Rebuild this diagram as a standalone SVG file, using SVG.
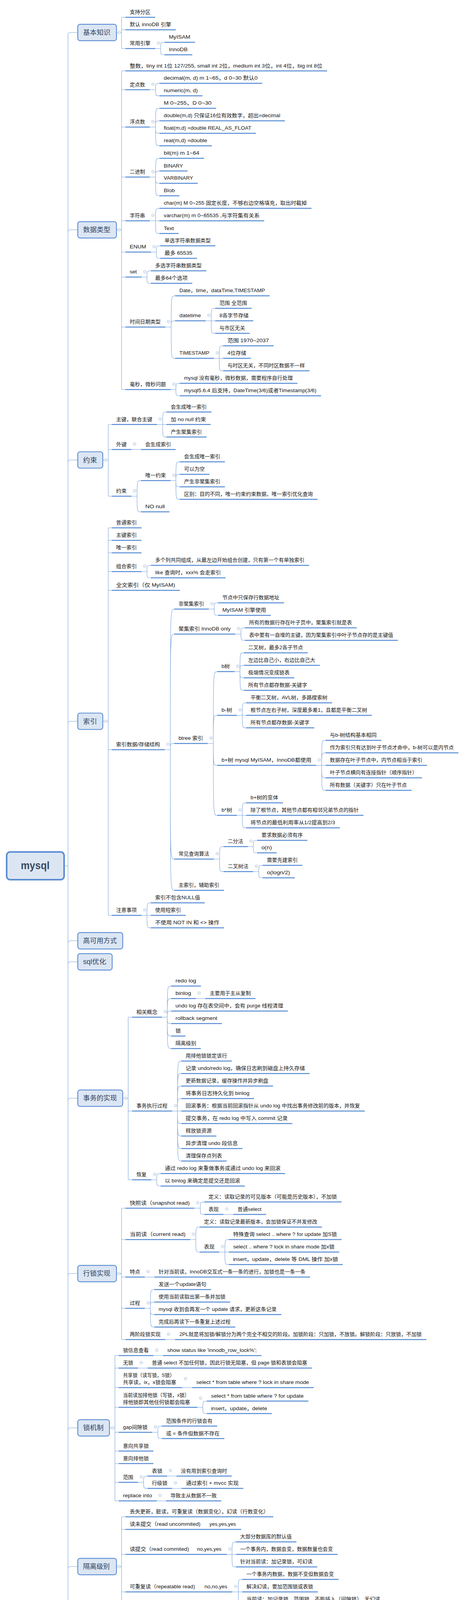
<svg xmlns="http://www.w3.org/2000/svg" width="1177" height="4571" viewBox="0 0 1177 4571">
<defs>
<style>
.u{stroke:#588dd4;stroke-width:2.6;fill:none}
.c{stroke:#79a3dc;stroke-width:1.1;fill:none}
.t{font-family:"Liberation Sans","Noto Sans CJK SC",sans-serif;font-size:13px;fill:#151515}
.bx{fill:#dce6f3;stroke:#5b8dd3;stroke-width:2.2}
.bt{font-family:"Liberation Sans","Noto Sans CJK SC",sans-serif;font-size:17.5px;fill:#2d4464}
.rt{font-family:"Liberation Sans","Noto Sans CJK SC",sans-serif;font-size:28px;font-weight:bold;fill:#3a4b63}
.ci{fill:#fff;stroke:#a8bcd8;stroke-width:1}
</style>
<g id="col"><circle class="ci" r="3.6"/><path d="M-2 0H2" stroke="#a8bcd8" stroke-width="1"/></g>
</defs>
<rect width="1177" height="4571" fill="#fff"/>
<g id="connectors">
<path class="c" d="M165 2216.5H174M174 89V4342.3M174 89Q174 83.2 180 83.2H199M174 594.3Q174 588.3 180 588.3H199M174 1183.5Q174 1177.5 180 1177.5H199M174 1852.5Q174 1846.5 180 1846.5H199M174 2414.3Q174 2408.3 180 2408.3H199M174 2468.3Q174 2462.3 180 2462.3H199M174 2817.3Q174 2811.3 180 2811.3H199M174 3266.3Q174 3260.3 180 3260.3H199M174 3661.3Q174 3655.3 180 3655.3H199M174 4016.3Q174 4010.3 180 4010.3H199M174 4342.3Q174 4348.3 180 4348.3H199"/>
<path class="c" d="M298 83.2H311M311 44.3V124.3M311 44.3H321M311 76.3H321M311 124.3H321"/>
<path class="c" d="M298 588.3H311M311 181.5V997.3M311 181.5H321M311 229.7H321M311 325.3H321M311 453.3H321M311 565.3H321M311 645.3H321M311 709.3H321M311 837.3H321M311 997.3H321"/>
<path class="c" d="M263 1177.5H277M277 1086.7V1270.3M277 1086.7H286M277 1150.7H286M277 1270.3H286"/>
<path class="c" d="M263 1846.5H277M277 1351.3V2343.3M277 1351.3H286M277 1383.3H286M277 1415.3H286M277 1463.3H286M277 1511.3H286M277 1919.3H286M277 2343.3H286"/>
<path class="c" d="M314 2811.3H328M328 2604V3020.3M328 2604H338M328 2844.3H338M328 3020.3H338"/>
<path class="c" d="M298 3260.3H311M311 3093V3429.3M311 3093H321M311 3173.3H321M311 3269.3H321M311 3349.3H321M311 3429.3H321"/>
<path class="c" d="M280 3655.3H294M294 3470.3V3842.3M294 3470.3H303.7M294 3502.3H303.7M294 3552.3H303.7M294 3602.7H303.7M294 3666.7H303.7M294 3714.7H303.7M294 3746.7H303.7M294 3794.7H303.7M294 3842.3H303.7"/>
<path class="c" d="M298 4010.3H311M311 3883V4139.3M311 3883H321M311 3915.3H321M311 3979.3H321M311 4075.3H321M311 4139.3H321"/>
<path class="c" d="M423 4348.3H436.6M436.6 4248.7V4450.3M436.6 4248.7H445.7M436.6 4450.3H445.7"/>
<path class="c" d="M397 124.3H411M411 124.3C411 108.3 411 108.3 421 108.3M411 124.3C411 140.3 411 140.3 421 140.3"/>
<path class="c" d="M383 229.7H398M398 229.7C398 213.3 398 213.3 408 213.3M398 229.7C398 245.3 398 245.3 408 245.3"/>
<path class="c" d="M383 325.3H398M398 325.3C398 277.3 398 277.3 408 277.3M398 325.3C398 309.3 398 309.3 408 309.3M398 325.3C398 341.3 398 341.3 408 341.3M398 325.3C398 373.3 398 373.3 408 373.3"/>
<path class="c" d="M383 453.3H398M398 453.3C398 405.3 398 405.3 408 405.3M398 453.3C398 437.7 398 437.7 408 437.7M398 453.3C398 469.3 398 469.3 408 469.3M398 453.3C398 501.3 398 501.3 408 501.3"/>
<path class="c" d="M383 565.3H398M398 565.3C398 533.3 398 533.3 408 533.3M398 565.3H408M398 565.3C398 597.7 398 597.7 408 597.7"/>
<path class="c" d="M386 645.3H400M400 645.3C400 629.3 400 629.3 410 629.3M400 645.3C400 661.3 400 661.3 410 661.3"/>
<path class="c" d="M362 709.3H376M376 709.3C376 693.3 376 693.3 386 693.3M376 709.3C376 725.3 376 725.3 386 725.3"/>
<path class="c" d="M423 837.3H438M438 837.3C438 757.3 438 757.3 448 757.3M438 837.3C438 821.3 438 821.3 448 821.3M438 837.3C438 917.3 438 917.3 448 917.3"/>
<path class="c" d="M526 821.3H540.5M540.5 821.3C540.5 789.3 540.5 789.3 550.5 789.3M540.5 821.3H550.5M540.5 821.3C540.5 853.3 540.5 853.3 550.5 853.3"/>
<path class="c" d="M547.5 917.3H561M561 917.3C561 885.3 561 885.3 571 885.3M561 917.3H571M561 917.3C561 949.3 561 949.3 571 949.3"/>
<path class="c" d="M436.6 997.3H450M450 997.3C450 981.3 450 981.3 460 981.3M450 997.3C450 1013.3 450 1013.3 460 1013.3"/>
<path class="c" d="M401.7 1086.7H416M416 1086.7C416 1054.7 416 1054.7 426 1054.7M416 1086.7H426M416 1086.7C416 1118.7 416 1118.7 426 1118.7"/>
<path class="c" d="M336 1150.7H360.7"/>
<path class="c" d="M336 1270.3H350.7M350.7 1270.3C350.7 1230.3 350.7 1230.3 360.7 1230.3M350.7 1270.3C350.7 1310.3 350.7 1310.3 360.7 1310.3"/>
<path class="c" d="M436.6 1230.3H450M450 1230.3C450 1182.3 450 1182.3 460 1182.3M450 1230.3C450 1214.3 450 1214.3 460 1214.3M450 1230.3C450 1246.3 450 1246.3 460 1246.3M450 1230.3C450 1278.3 450 1278.3 460 1278.3"/>
<path class="c" d="M362 1463.3H376M376 1463.3C376 1447.3 376 1447.3 386 1447.3M376 1463.3C376 1479.3 376 1479.3 386 1479.3"/>
<path class="c" d="M421.4 1919.3H435.7M435.7 1919.3C435.7 1559.3 435.7 1559.3 445.7 1559.3M435.7 1919.3C435.7 1623.3 435.7 1623.3 445.7 1623.3M435.7 1919.3C435.7 1903.3 435.7 1903.3 445.7 1903.3M435.7 1919.3C435.7 2199.3 435.7 2199.3 445.7 2199.3M435.7 1919.3C435.7 2279.3 435.7 2279.3 445.7 2279.3"/>
<path class="c" d="M534 1559.3H548M548 1559.3C548 1543.3 548 1543.3 558 1543.3M548 1559.3C548 1575.3 548 1575.3 558 1575.3"/>
<path class="c" d="M602 1623.3H616.4M616.4 1623.3C616.4 1607.3 616.4 1607.3 626.4 1607.3M616.4 1623.3C616.4 1639.3 616.4 1639.3 626.4 1639.3"/>
<path class="c" d="M531.5 1903.3H545.8M545.8 1903.3C545.8 1719.3 545.8 1719.3 555.8 1719.3M545.8 1903.3C545.8 1831.3 545.8 1831.3 555.8 1831.3M545.8 1903.3C545.8 1959.3 545.8 1959.3 555.8 1959.3M545.8 1903.3C545.8 2087.3 545.8 2087.3 555.8 2087.3"/>
<path class="c" d="M600 1719.3H614M614 1719.3C614 1671.3 614 1671.3 624 1671.3M614 1719.3C614 1703.3 614 1703.3 624 1703.3M614 1719.3C614 1735.3 614 1735.3 624 1735.3M614 1719.3C614 1767.3 614 1767.3 624 1767.3"/>
<path class="c" d="M606 1831.3H620M620 1831.3C620 1799.3 620 1799.3 630 1799.3M620 1831.3H630M620 1831.3C620 1863.3 620 1863.3 630 1863.3"/>
<path class="c" d="M808.7 1959.3H823M823 1959.3C823 1895.3 823 1895.3 833 1895.3M823 1959.3C823 1927.3 823 1927.3 833 1927.3M823 1959.3H833M823 1959.3C823 1991.3 823 1991.3 833 1991.3M823 1959.3C823 2023.3 823 2023.3 833 2023.3"/>
<path class="c" d="M606 2087.3H620M620 2087.3C620 2055.3 620 2055.3 630 2055.3M620 2087.3H630M620 2087.3C620 2119.3 620 2119.3 630 2119.3"/>
<path class="c" d="M547.5 2199.3H561.8M561.8 2199.3C561.8 2167.3 561.8 2167.3 571.8 2167.3M561.8 2199.3C561.8 2231.3 561.8 2231.3 571.8 2231.3"/>
<path class="c" d="M634 2167.3H648M648 2167.3C648 2151.3 648 2151.3 658 2151.3M648 2167.3C648 2183.3 648 2183.3 658 2183.3"/>
<path class="c" d="M647.7 2231.3H662M662 2231.3C662 2215.3 662 2215.3 672 2215.3M662 2231.3C662 2247.3 662 2247.3 672 2247.3"/>
<path class="c" d="M362 2343.3H376M376 2343.3C376 2311.3 376 2311.3 386 2311.3M376 2343.3H386M376 2343.3C376 2375.3 376 2375.3 386 2375.3"/>
<path class="c" d="M414.6 2604H428M428 2604C428 2524.3 428 2524.3 438 2524.3M428 2604C428 2556.3 428 2556.3 438 2556.3M428 2604C428 2588.3 428 2588.3 438 2588.3M428 2604C428 2620.3 428 2620.3 438 2620.3M428 2604C428 2652.3 428 2652.3 438 2652.3M428 2604C428 2684.3 428 2684.3 438 2684.3"/>
<path class="c" d="M501 2556.3H525.4"/>
<path class="c" d="M440.4 2844.3H454M454 2844.3C454 2716.3 454 2716.3 464 2716.3M454 2844.3C454 2748.3 454 2748.3 464 2748.3M454 2844.3C454 2780.3 454 2780.3 464 2780.3M454 2844.3C454 2812.3 454 2812.3 464 2812.3M454 2844.3H464M454 2844.3C454 2876.3 454 2876.3 464 2876.3M454 2844.3C454 2908.3 454 2908.3 464 2908.3M454 2844.3C454 2940.3 454 2940.3 464 2940.3M454 2844.3C454 2972.3 454 2972.3 464 2972.3"/>
<path class="c" d="M387.2 3020.3H400.8M400.8 3020.3C400.8 3004.3 400.8 3004.3 410.8 3004.3M400.8 3020.3C400.8 3036.3 400.8 3036.3 410.8 3036.3"/>
<path class="c" d="M497.3 3093H512.4M512.4 3093C512.4 3077 512.4 3077 522.4 3077M512.4 3093C512.4 3109 512.4 3109 522.4 3109"/>
<path class="c" d="M571.8 3109H596.8"/>
<path class="c" d="M486.7 3173.3H501M501 3173.3C501 3141.3 501 3141.3 511 3141.3M501 3173.3C501 3205.3 501 3205.3 511 3205.3"/>
<path class="c" d="M561 3205.3H575.4M575.4 3205.3C575.4 3173.3 575.4 3173.3 585.4 3173.3M575.4 3205.3H585.4M575.4 3205.3C575.4 3237.3 575.4 3237.3 585.4 3237.3"/>
<path class="c" d="M370.5 3269.3H394.8"/>
<path class="c" d="M370.5 3349.3H384.8M384.8 3349.3C384.8 3301.3 384.8 3301.3 394.8 3301.3M384.8 3349.3C384.8 3333.3 384.8 3333.3 394.8 3333.3M384.8 3349.3C384.8 3365.3 384.8 3365.3 394.8 3365.3M384.8 3349.3C384.8 3397.3 384.8 3397.3 394.8 3397.3"/>
<path class="c" d="M423 3429.3H448"/>
<path class="c" d="M392.6 3470.3H416.9M353 3502.3H377.4M466.2 3552.3H491.3"/>
<path class="c" d="M505 3602.7H519M519 3602.7C519 3586.7 519 3586.7 529 3586.7M519 3602.7C519 3618.7 519 3618.7 529 3618.7"/>
<path class="c" d="M389.5 3666.7H403.8M403.8 3666.7C403.8 3650.7 403.8 3650.7 413.8 3650.7M403.8 3666.7C403.8 3682.7 403.8 3682.7 413.8 3682.7"/>
<path class="c" d="M353 3794.7H367.4M367.4 3794.7C367.4 3778.7 367.4 3778.7 377.4 3778.7M367.4 3794.7C367.4 3810.3 367.4 3810.3 377.4 3810.3"/>
<path class="c" d="M427.5 3778.7H451.8M440.4 3810.3H464.7M401 3842.3H425.2"/>
<path class="c" d="M580 3979.3H593.6M593.6 3979.3C593.6 3947.3 593.6 3947.3 603.6 3947.3M593.6 3979.3H603.6M593.6 3979.3C593.6 4011.3 593.6 4011.3 603.6 4011.3"/>
<path class="c" d="M594.5 4075.3H609.6M609.6 4075.3C609.6 4043.3 609.6 4043.3 619.6 4043.3M609.6 4075.3H619.6M609.6 4075.3C609.6 4107.3 609.6 4107.3 619.6 4107.3"/>
<path class="c" d="M553.5 4139.3H578.6"/>
<path class="c" d="M522.4 4248.7H536.7M536.7 4248.7C536.7 4198.3 536.7 4198.3 546.7 4198.3M536.7 4248.7H546.7M536.7 4248.7C536.7 4298.3 536.7 4298.3 546.7 4298.3"/>
<path class="c" d="M495 4450.3H510M510 4450.3C510 4346.3 510 4346.3 520 4346.3M510 4450.3C510 4394.3 510 4394.3 520 4394.3M510 4450.3C510 4426.3 510 4426.3 520 4426.3M510 4450.3C510 4474.3 510 4474.3 520 4474.3M510 4450.3C510 4522.3 510 4522.3 520 4522.3M510 4450.3C510 4554.3 510 4554.3 520 4554.3"/>
<path class="c" d="M578.6 4346.3H593M593 4346.3C593 4330.7 593 4330.7 603 4330.7M593 4346.3C593 4362.7 593 4362.7 603 4362.7"/>
<path class="c" d="M580 4394.3H603M588.5 4426.3H612.8"/>
<path class="c" d="M581.6 4474.3H596.7M596.7 4474.3C596.7 4458.3 596.7 4458.3 606.7 4458.3M596.7 4474.3C596.7 4490.3 596.7 4490.3 606.7 4490.3"/>
<path class="c" d="M590.7 4522.3H615M593.8 4554.3H617.3"/>
</g>

<g id="root">
<rect x="17" y="2181" width="147" height="71" rx="9" fill="#dce6f3" stroke="#5b8dd3" stroke-width="4"/>
<text class="rt" x="53.2" y="2225" textLength="73.6" lengthAdjust="spacingAndGlyphs">mysql</text>
</g>

<g id="n-basic">
<rect class="bx" x="199" y="62.2" width="99" height="42" rx="6"/>
<text class="bt" x="212.6" y="89.2" textLength="70" lengthAdjust="spacingAndGlyphs">基本知识</text>
<use href="#col" x="305" y="83.2"/>
</g>
<g id="k1"><path class="u" d="M321 44.3H397"/><text class="t" x="332" y="35.3" textLength="53" lengthAdjust="spacingAndGlyphs">支持分区</text></g>
<g id="k2"><path class="u" d="M321 76.3H450"/><text class="t" x="332" y="67.3" textLength="106" lengthAdjust="spacingAndGlyphs">默认 innoDB 引擎</text></g>
<g id="k3"><path class="u" d="M321 124.3H397"/><text class="t" x="332" y="115.3" textLength="53" lengthAdjust="spacingAndGlyphs">常用引擎</text><use href="#col" x="405.5" y="110.3"/></g>
<g id="k3a"><path class="u" d="M421 108.3H499"/><text class="t" x="432" y="99.3" textLength="55" lengthAdjust="spacingAndGlyphs">MyISAM</text></g>
<g id="k3b"><path class="u" d="M421 140.3H492"/><text class="t" x="432" y="131.3" textLength="48" lengthAdjust="spacingAndGlyphs">InnoDB</text></g>

<g id="n-types">
<rect class="bx" x="199" y="567.3" width="99" height="42" rx="6"/>
<text class="bt" x="212.6" y="594.3" textLength="70" lengthAdjust="spacingAndGlyphs">数据类型</text>
<use href="#col" x="305" y="588.3"/>
</g>
<g id="d1"><path class="u" d="M321 181.5H837"/><text class="t" x="332" y="172.5" textLength="493" lengthAdjust="spacingAndGlyphs">整数，tiny int 1位 127/255, small int 2位，medium int 3位，int 4位，big int 8位</text></g>
<g id="d2"><path class="u" d="M321 229.7H383"/><text class="t" x="332" y="220.7" textLength="39" lengthAdjust="spacingAndGlyphs">定点数</text><use href="#col" x="391.5" y="215.7"/></g>
<g id="d2a"><path class="u" d="M408 213.3H671"/><text class="t" x="419" y="204.3" textLength="240" lengthAdjust="spacingAndGlyphs">decimal(m, d) m 1~65，d 0~30 默认0</text></g>
<g id="d2b"><path class="u" d="M408 245.3H518"/><text class="t" x="419" y="236.3" textLength="87" lengthAdjust="spacingAndGlyphs">numeric(m, d)</text></g>
<g id="d3"><path class="u" d="M321 325.3H383"/><text class="t" x="332" y="316.3" textLength="39" lengthAdjust="spacingAndGlyphs">浮点数</text><use href="#col" x="391.5" y="311.3"/></g>
<g id="d3a"><path class="u" d="M408 277.3H553"/><text class="t" x="419" y="268.3" textLength="122" lengthAdjust="spacingAndGlyphs">M 0~255，D 0~30</text></g>
<g id="d3b"><path class="u" d="M408 309.3H729"/><text class="t" x="419" y="300.3" textLength="298" lengthAdjust="spacingAndGlyphs">double(m,d) 只保证16位有效数字，超出=decimal</text></g>
<g id="d3c"><path class="u" d="M408 341.3H655"/><text class="t" x="419" y="332.3" textLength="224" lengthAdjust="spacingAndGlyphs">float(m,d) =double REAL_AS_FLOAT</text></g>
<g id="d3d"><path class="u" d="M408 373.3H542"/><text class="t" x="419" y="364.3" textLength="111" lengthAdjust="spacingAndGlyphs">real(m,d) =double</text></g>
<g id="d4"><path class="u" d="M321 453.3H383"/><text class="t" x="332" y="444.3" textLength="39" lengthAdjust="spacingAndGlyphs">二进制</text><use href="#col" x="391.5" y="439.3"/></g>
<g id="d4a"><path class="u" d="M408 405.3H522"/><text class="t" x="419" y="396.3" textLength="91" lengthAdjust="spacingAndGlyphs">bit(m) m 1~64</text></g>
<g id="d4b"><path class="u" d="M408 437.7H480"/><text class="t" x="419" y="428.7" textLength="49" lengthAdjust="spacingAndGlyphs">BINARY</text></g>
<g id="d4c"><path class="u" d="M408 469.3H506"/><text class="t" x="419" y="460.3" textLength="75" lengthAdjust="spacingAndGlyphs">VARBINARY</text></g>
<g id="d4d"><path class="u" d="M408 501.3H459"/><text class="t" x="419" y="492.3" textLength="28" lengthAdjust="spacingAndGlyphs">Blob</text></g>
<g id="d5"><path class="u" d="M321 565.3H383"/><text class="t" x="332" y="556.3" textLength="39" lengthAdjust="spacingAndGlyphs">字符串</text><use href="#col" x="391.5" y="551.3"/></g>
<g id="d5a"><path class="u" d="M408 533.3H797"/><text class="t" x="419" y="524.3" textLength="366" lengthAdjust="spacingAndGlyphs">char(m) M 0~255 固定长度，不够右边空格填充，取出时截掉</text></g>
<g id="d5b"><path class="u" d="M408 565.3H676"/><text class="t" x="419" y="556.3" textLength="245" lengthAdjust="spacingAndGlyphs">varchar(m) m 0~65535 ,与字符集有关系</text></g>
<g id="d5c"><path class="u" d="M408 597.7H457"/><text class="t" x="419" y="588.7" textLength="26" lengthAdjust="spacingAndGlyphs">Text</text></g>
<g id="d6"><path class="u" d="M321 645.3H386"/><text class="t" x="332" y="636.3" textLength="42" lengthAdjust="spacingAndGlyphs">ENUM</text><use href="#col" x="394.5" y="631.3"/></g>
<g id="d6a"><path class="u" d="M410 629.3H551"/><text class="t" x="421" y="620.3" textLength="118" lengthAdjust="spacingAndGlyphs">单选字符串数据类型</text></g>
<g id="d6b"><path class="u" d="M410 661.3H504"/><text class="t" x="421" y="652.3" textLength="71" lengthAdjust="spacingAndGlyphs">最多 65535</text></g>
<g id="d7"><path class="u" d="M321 709.3H362"/><text class="t" x="332" y="700.3" textLength="18" lengthAdjust="spacingAndGlyphs">set</text><use href="#col" x="370.5" y="695.3"/></g>
<g id="d7a"><path class="u" d="M386 693.3H528"/><text class="t" x="397" y="684.3" textLength="119" lengthAdjust="spacingAndGlyphs">多选字符串数据类型</text></g>
<g id="d7b"><path class="u" d="M386 725.3H492"/><text class="t" x="397" y="716.3" textLength="83" lengthAdjust="spacingAndGlyphs">最多64个选项</text></g>
<g id="d8"><path class="u" d="M321 837.3H423"/><text class="t" x="332" y="828.3" textLength="79" lengthAdjust="spacingAndGlyphs">时间日期类型</text><use href="#col" x="431.5" y="823.3"/></g>
<g id="d8a"><path class="u" d="M448 757.3H690"/><text class="t" x="459" y="748.3" textLength="219" lengthAdjust="spacingAndGlyphs">Date，time，dataTime,TIMESTAMP</text></g>
<g id="d8b"><path class="u" d="M448 821.3H526"/><text class="t" x="459" y="812.3" textLength="55" lengthAdjust="spacingAndGlyphs">datetime</text><use href="#col" x="534.5" y="807.3"/></g>
<g id="d8b1"><path class="u" d="M550.5 789.3H644"/><text class="t" x="561.5" y="780.3" textLength="70.5" lengthAdjust="spacingAndGlyphs">范围 全范围</text></g>
<g id="d8b2"><path class="u" d="M550.5 821.3H648"/><text class="t" x="561.5" y="812.3" textLength="74.5" lengthAdjust="spacingAndGlyphs">8各字节存储</text></g>
<g id="d8b3"><path class="u" d="M550.5 853.3H639"/><text class="t" x="561.5" y="844.3" textLength="65.5" lengthAdjust="spacingAndGlyphs">与市区无关</text></g>
<g id="d8c"><path class="u" d="M448 917.3H547.5"/><text class="t" x="459" y="908.3" textLength="76.5" lengthAdjust="spacingAndGlyphs">TIMESTAMP</text><use href="#col" x="556" y="903.3"/></g>
<g id="d8c1"><path class="u" d="M571 885.3H700"/><text class="t" x="582" y="876.3" textLength="106" lengthAdjust="spacingAndGlyphs">范围 1970~2037</text></g>
<g id="d8c2"><path class="u" d="M571 917.3H642"/><text class="t" x="582" y="908.3" textLength="48" lengthAdjust="spacingAndGlyphs">4位存储</text></g>
<g id="d8c3"><path class="u" d="M571 949.3H792"/><text class="t" x="582" y="940.3" textLength="198" lengthAdjust="spacingAndGlyphs">与时区无关，不同时区数据不一样</text></g>
<g id="d9"><path class="u" d="M321 997.3H436.6"/><text class="t" x="332" y="988.3" textLength="92.6" lengthAdjust="spacingAndGlyphs">毫秒，微秒问题</text><use href="#col" x="445" y="983.3"/></g>
<g id="d9a"><path class="u" d="M460 981.3H761"/><text class="t" x="471" y="972.3" textLength="278" lengthAdjust="spacingAndGlyphs">mysql 没有毫秒，微秒数据，需要程序自行处理</text></g>
<g id="d9b"><path class="u" d="M460 1013.3H821.6"/><text class="t" x="471" y="1004.3" textLength="338.6" lengthAdjust="spacingAndGlyphs">mysql5.6.4 后支持，DateTime(3/6)或者Timestamp(3/6)</text></g>

<g id="n-constraint">
<rect class="bx" x="199" y="1156.5" width="64" height="42" rx="6"/>
<text class="bt" x="212.6" y="1183.5" textLength="35.7" lengthAdjust="spacingAndGlyphs">约束</text>
<use href="#col" x="270" y="1177.5"/>
</g>
<g id="y1"><path class="u" d="M286 1086.7H401.7"/><text class="t" x="297" y="1077.7" textLength="92.7" lengthAdjust="spacingAndGlyphs">主键，联合主键</text><use href="#col" x="410" y="1072.7"/></g>
<g id="y1a"><path class="u" d="M426 1054.7H541"/><text class="t" x="437" y="1045.7" textLength="92" lengthAdjust="spacingAndGlyphs">会生成唯一索引</text></g>
<g id="y1b"><path class="u" d="M426 1086.7H539"/><text class="t" x="437" y="1077.7" textLength="90" lengthAdjust="spacingAndGlyphs">加 no null 约束</text></g>
<g id="y1c"><path class="u" d="M426 1118.7H528.5"/><text class="t" x="437" y="1109.7" textLength="79.5" lengthAdjust="spacingAndGlyphs">产生聚集索引</text></g>
<g id="y2"><path class="u" d="M286 1150.7H336"/><text class="t" x="297" y="1141.7" textLength="27" lengthAdjust="spacingAndGlyphs">外键</text><use href="#col" x="344.5" y="1136.7"/></g>
<g id="y2a"><path class="u" d="M360.7 1150.7H449.5"/><text class="t" x="371.7" y="1141.7" textLength="65.8" lengthAdjust="spacingAndGlyphs">会生成索引</text></g>
<g id="y3"><path class="u" d="M286 1270.3H336"/><text class="t" x="297" y="1261.3" textLength="27" lengthAdjust="spacingAndGlyphs">约束</text><use href="#col" x="344.5" y="1256.3"/></g>
<g id="y3a"><path class="u" d="M360.7 1230.3H436.6"/><text class="t" x="371.7" y="1221.3" textLength="52.9" lengthAdjust="spacingAndGlyphs">唯一约束</text><use href="#col" x="445" y="1216.3"/></g>
<g id="y3a1"><path class="u" d="M460 1182.3H575.5"/><text class="t" x="471" y="1173.3" textLength="92.5" lengthAdjust="spacingAndGlyphs">会生成唯一索引</text></g>
<g id="y3a2"><path class="u" d="M460 1214.3H536"/><text class="t" x="471" y="1205.3" textLength="53" lengthAdjust="spacingAndGlyphs">可以为空</text></g>
<g id="y3a3"><path class="u" d="M460 1246.3H575.5"/><text class="t" x="471" y="1237.3" textLength="92.5" lengthAdjust="spacingAndGlyphs">产生非聚集索引</text></g>
<g id="y3a4"><path class="u" d="M460 1278.3H812.5"/><text class="t" x="471" y="1269.3" textLength="329.5" lengthAdjust="spacingAndGlyphs">区别：目的不同，唯一约束约束数据，唯一索引优化查询</text></g>
<g id="y3b"><path class="u" d="M360.7 1310.3H433.6"/><text class="t" x="371.7" y="1301.3" textLength="49.9" lengthAdjust="spacingAndGlyphs">NO null</text></g>

<g id="n-index">
<rect class="bx" x="199" y="1825.5" width="64" height="42" rx="6"/>
<text class="bt" x="212.6" y="1852.5" textLength="35.7" lengthAdjust="spacingAndGlyphs">索引</text>
<use href="#col" x="270" y="1846.5"/>
</g>
<g id="s1"><path class="u" d="M286 1351.3H362"/><text class="t" x="297" y="1342.3" textLength="53" lengthAdjust="spacingAndGlyphs">普通索引</text></g>
<g id="s2"><path class="u" d="M286 1383.3H362"/><text class="t" x="297" y="1374.3" textLength="53" lengthAdjust="spacingAndGlyphs">主键索引</text></g>
<g id="s3"><path class="u" d="M286 1415.3H362"/><text class="t" x="297" y="1406.3" textLength="53" lengthAdjust="spacingAndGlyphs">唯一索引</text></g>
<g id="s4"><path class="u" d="M286 1463.3H362"/><text class="t" x="297" y="1454.3" textLength="53" lengthAdjust="spacingAndGlyphs">组合索引</text><use href="#col" x="370.5" y="1449.3"/></g>
<g id="s4a"><path class="u" d="M386 1447.3H791"/><text class="t" x="397" y="1438.3" textLength="382" lengthAdjust="spacingAndGlyphs">多个列共同组成，从最左边开始组合创建，只有第一个有单独索引</text></g>
<g id="s4b"><path class="u" d="M386 1479.3H577"/><text class="t" x="397" y="1470.3" textLength="168" lengthAdjust="spacingAndGlyphs">like 查询时，xxx% 会走索引</text></g>
<g id="s5"><path class="u" d="M286 1511.3H460"/><text class="t" x="297" y="1502.3" textLength="151" lengthAdjust="spacingAndGlyphs">全文索引（仅 MyISAM)</text></g>
<g id="s6"><path class="u" d="M286 1919.3H421.4"/><text class="t" x="297" y="1910.3" textLength="112.4" lengthAdjust="spacingAndGlyphs">索引数据/存储结构</text><use href="#col" x="429.9" y="1905.3"/></g>
<g id="s6a"><path class="u" d="M445.7 1559.3H534"/><text class="t" x="456.7" y="1550.3" textLength="65.3" lengthAdjust="spacingAndGlyphs">非聚集索引</text><use href="#col" x="542.5" y="1545.3"/></g>
<g id="s6a1"><path class="u" d="M558 1543.3H726.7"/><text class="t" x="569" y="1534.3" textLength="145.7" lengthAdjust="spacingAndGlyphs">节点中只保存行数据地址</text></g>
<g id="s6a2"><path class="u" d="M558 1575.3H693"/><text class="t" x="569" y="1566.3" textLength="112" lengthAdjust="spacingAndGlyphs">MyISAM 引擎使用</text></g>
<g id="s6b"><path class="u" d="M445.7 1623.3H602"/><text class="t" x="456.7" y="1614.3" textLength="133.3" lengthAdjust="spacingAndGlyphs">聚集索引 InnoDB only</text><use href="#col" x="610.5" y="1609.3"/></g>
<g id="s6b1"><path class="u" d="M626.4 1607.3H912.7"/><text class="t" x="637.4" y="1598.3" textLength="263.3" lengthAdjust="spacingAndGlyphs">所有的数据行存在叶子页中，聚集索引就是表</text></g>
<g id="s6b2"><path class="u" d="M626.4 1639.3H1018"/><text class="t" x="637.4" y="1630.3" textLength="368.6" lengthAdjust="spacingAndGlyphs">表中要有一自增的主键，因为聚集索引中叶子节点存的是主键值</text></g>
<g id="s6c"><path class="u" d="M445.7 1903.3H531.5"/><text class="t" x="456.7" y="1894.3" textLength="62.8" lengthAdjust="spacingAndGlyphs">btree 索引</text><use href="#col" x="540" y="1889.3"/></g>
<g id="s6c1"><path class="u" d="M555.8 1719.3H600"/><text class="t" x="566.8" y="1710.3" textLength="21.2" lengthAdjust="spacingAndGlyphs">b树</text><use href="#col" x="608.5" y="1705.3"/></g>
<g id="s6c1a"><path class="u" d="M624 1671.3H787.4"/><text class="t" x="635" y="1662.3" textLength="140.4" lengthAdjust="spacingAndGlyphs">二叉树，最多2各子节点</text></g>
<g id="s6c1b"><path class="u" d="M624 1703.3H818.5"/><text class="t" x="635" y="1694.3" textLength="171.5" lengthAdjust="spacingAndGlyphs">左边比自己小，右边比自己大</text></g>
<g id="s6c1c"><path class="u" d="M624 1735.3H753"/><text class="t" x="635" y="1726.3" textLength="106" lengthAdjust="spacingAndGlyphs">极端情况变成链表</text></g>
<g id="s6c1d"><path class="u" d="M624 1767.3H798"/><text class="t" x="635" y="1758.3" textLength="151" lengthAdjust="spacingAndGlyphs">所有节点都存数据-关键字</text></g>
<g id="s6c2"><path class="u" d="M555.8 1831.3H606"/><text class="t" x="566.8" y="1822.3" textLength="27.2" lengthAdjust="spacingAndGlyphs">b-树</text><use href="#col" x="614.5" y="1817.3"/></g>
<g id="s6c2a"><path class="u" d="M630 1799.3H849.7"/><text class="t" x="641" y="1790.3" textLength="196.7" lengthAdjust="spacingAndGlyphs">平衡二叉树，AVL树，多路搜索树</text></g>
<g id="s6c2b"><path class="u" d="M630 1831.3H951.4"/><text class="t" x="641" y="1822.3" textLength="298.4" lengthAdjust="spacingAndGlyphs">根节点左右子树，深度最多差1，且都是平衡二叉树</text></g>
<g id="s6c2c"><path class="u" d="M630 1863.3H804"/><text class="t" x="641" y="1854.3" textLength="151" lengthAdjust="spacingAndGlyphs">所有节点都存数据-关键字</text></g>
<g id="s6c3"><path class="u" d="M555.8 1959.3H808.7"/><text class="t" x="566.8" y="1950.3" textLength="229.9" lengthAdjust="spacingAndGlyphs">b+树 mysql MyISAM，InnoDB都使用</text><use href="#col" x="817" y="1945.3"/></g>
<g id="s6c3a"><path class="u" d="M833 1895.3H975.7"/><text class="t" x="844" y="1886.3" textLength="119.7" lengthAdjust="spacingAndGlyphs">与b-树结构基本相同</text></g>
<g id="s6c3b"><path class="u" d="M833 1927.3H1173"/><text class="t" x="844" y="1918.3" textLength="317" lengthAdjust="spacingAndGlyphs">作为索引只有达到叶子节点才命中，b-树可以是内节点</text></g>
<g id="s6c3c"><path class="u" d="M833 1959.3H1092.6"/><text class="t" x="844" y="1950.3" textLength="236.6" lengthAdjust="spacingAndGlyphs">数据存在叶子节点中，内节点相当于索引</text></g>
<g id="s6c3d"><path class="u" d="M833 1991.3H1079.7"/><text class="t" x="844" y="1982.3" textLength="223.7" lengthAdjust="spacingAndGlyphs">叶子节点横向有连接指针（顺序指针）</text></g>
<g id="s6c3e"><path class="u" d="M833 2023.3H1053"/><text class="t" x="844" y="2014.3" textLength="197" lengthAdjust="spacingAndGlyphs">所有数据（关键字）只在叶子节点</text></g>
<g id="s6c4"><path class="u" d="M555.8 2087.3H606"/><text class="t" x="566.8" y="2078.3" textLength="27.2" lengthAdjust="spacingAndGlyphs">b*树</text><use href="#col" x="614.5" y="2073.3"/></g>
<g id="s6c4a"><path class="u" d="M630 2055.3H724"/><text class="t" x="641" y="2046.3" textLength="71" lengthAdjust="spacingAndGlyphs">b+树的变体</text></g>
<g id="s6c4b"><path class="u" d="M630 2087.3H930"/><text class="t" x="641" y="2078.3" textLength="277" lengthAdjust="spacingAndGlyphs">除了根节点，其他节点都有相邻兄弟节点的指针</text></g>
<g id="s6c4c"><path class="u" d="M630 2119.3H869.4"/><text class="t" x="641" y="2110.3" textLength="216.4" lengthAdjust="spacingAndGlyphs">将节点的最低利用率从1/2提高到2/3</text></g>
<g id="s6d"><path class="u" d="M445.7 2199.3H547.5"/><text class="t" x="456.7" y="2190.3" textLength="78.8" lengthAdjust="spacingAndGlyphs">常见查询算法</text><use href="#col" x="556" y="2185.3"/></g>
<g id="s6d1"><path class="u" d="M571.8 2167.3H634"/><text class="t" x="582.8" y="2158.3" textLength="39.2" lengthAdjust="spacingAndGlyphs">二分法</text><use href="#col" x="642.5" y="2153.3"/></g>
<g id="s6d1a"><path class="u" d="M658 2151.3H786.6"/><text class="t" x="669" y="2142.3" textLength="105.6" lengthAdjust="spacingAndGlyphs">要求数据必须有序</text></g>
<g id="s6d1b"><path class="u" d="M658 2183.3H707.7"/><text class="t" x="669" y="2174.3" textLength="26.7" lengthAdjust="spacingAndGlyphs">o(n)</text></g>
<g id="s6d2"><path class="u" d="M571.8 2231.3H647.7"/><text class="t" x="582.8" y="2222.3" textLength="52.9" lengthAdjust="spacingAndGlyphs">二叉树法</text><use href="#col" x="656" y="2217.3"/></g>
<g id="s6d2a"><path class="u" d="M672 2215.3H773.7"/><text class="t" x="683" y="2206.3" textLength="78.7" lengthAdjust="spacingAndGlyphs">需要先建索引</text></g>
<g id="s6d2b"><path class="u" d="M672 2247.3H754"/><text class="t" x="683" y="2238.3" textLength="59" lengthAdjust="spacingAndGlyphs">o(logn/2)</text></g>
<g id="s6e"><path class="u" d="M445.7 2279.3H573"/><text class="t" x="456.7" y="2270.3" textLength="104.3" lengthAdjust="spacingAndGlyphs">主索引，辅助索引</text></g>
<g id="s7"><path class="u" d="M286 2343.3H362"/><text class="t" x="297" y="2334.3" textLength="53" lengthAdjust="spacingAndGlyphs">注意事项</text><use href="#col" x="370.5" y="2329.3"/></g>
<g id="s7a"><path class="u" d="M386 2311.3H524"/><text class="t" x="397" y="2302.3" textLength="115" lengthAdjust="spacingAndGlyphs">索引不包含NULL值</text></g>
<g id="s7b"><path class="u" d="M386 2343.3H475"/><text class="t" x="397" y="2334.3" textLength="66" lengthAdjust="spacingAndGlyphs">使用短索引</text></g>
<g id="s7c"><path class="u" d="M386 2375.3H573"/><text class="t" x="397" y="2366.3" textLength="164" lengthAdjust="spacingAndGlyphs">不使用 NOT IN 和 &lt;&gt; 操作</text></g>

<g id="n-ha">
<rect class="bx" x="199" y="2387.3" width="115" height="42" rx="6"/>
<text class="bt" x="212.6" y="2414.3" textLength="86.6" lengthAdjust="spacingAndGlyphs">高可用方式</text>
</g>
<g id="n-sql">
<rect class="bx" x="199" y="2441.3" width="88" height="42" rx="6"/>
<text class="bt" x="212.6" y="2468.3" textLength="59.2" lengthAdjust="spacingAndGlyphs">sql优化</text>
</g>

<g id="n-tx">
<rect class="bx" x="199" y="2790.3" width="115" height="42" rx="6"/>
<text class="bt" x="212.6" y="2817.3" textLength="86.6" lengthAdjust="spacingAndGlyphs">事务的实现</text>
<use href="#col" x="322" y="2811.3"/>
</g>
<g id="t1"><path class="u" d="M338 2604H414.6"/><text class="t" x="349" y="2595" textLength="53.6" lengthAdjust="spacingAndGlyphs">相关概念</text><use href="#col" x="423" y="2590"/></g>
<g id="t1a"><path class="u" d="M438 2524.3H514"/><text class="t" x="449" y="2515.3" textLength="53" lengthAdjust="spacingAndGlyphs">redo log</text></g>
<g id="t1b"><path class="u" d="M438 2556.3H501"/><text class="t" x="449" y="2547.3" textLength="40" lengthAdjust="spacingAndGlyphs">binlog</text><use href="#col" x="509.5" y="2542.3"/></g>
<g id="t1b1"><path class="u" d="M525.4 2556.3H653.8"/><text class="t" x="536.4" y="2547.3" textLength="105.4" lengthAdjust="spacingAndGlyphs">主要用于主从复制</text></g>
<g id="t1c"><path class="u" d="M438 2588.3H736.5"/><text class="t" x="449" y="2579.3" textLength="275.5" lengthAdjust="spacingAndGlyphs">undo log 存在表空间中，会有 purge 线程清理</text></g>
<g id="t1d"><path class="u" d="M438 2620.3H568"/><text class="t" x="449" y="2611.3" textLength="107" lengthAdjust="spacingAndGlyphs">rollback segment</text></g>
<g id="t1e"><path class="u" d="M438 2652.3H474.6"/><text class="t" x="449" y="2643.3" textLength="13.6" lengthAdjust="spacingAndGlyphs">锁</text></g>
<g id="t1f"><path class="u" d="M438 2684.3H514"/><text class="t" x="449" y="2675.3" textLength="53" lengthAdjust="spacingAndGlyphs">隔离级别</text></g>
<g id="t2"><path class="u" d="M338 2844.3H440.4"/><text class="t" x="349" y="2835.3" textLength="79.4" lengthAdjust="spacingAndGlyphs">事务执行过程</text><use href="#col" x="449" y="2830.3"/></g>
<g id="t2a"><path class="u" d="M464 2716.3H593"/><text class="t" x="475" y="2707.3" textLength="106" lengthAdjust="spacingAndGlyphs">用排他锁锁定该行</text></g>
<g id="t2b"><path class="u" d="M464 2748.3H792"/><text class="t" x="475" y="2739.3" textLength="305" lengthAdjust="spacingAndGlyphs">记录 undo/redo log，确保日志刷到磁盘上持久存储</text></g>
<g id="t2c"><path class="u" d="M464 2780.3H698.6"/><text class="t" x="475" y="2771.3" textLength="211.6" lengthAdjust="spacingAndGlyphs">更新数据记录，缓存操作并异步刷盘</text></g>
<g id="t2d"><path class="u" d="M464 2812.3H650"/><text class="t" x="475" y="2803.3" textLength="163" lengthAdjust="spacingAndGlyphs">将事务日志持久化到 binlog</text></g>
<g id="t2e"><path class="u" d="M464 2844.3H933.2"/><text class="t" x="475" y="2835.3" textLength="446.2" lengthAdjust="spacingAndGlyphs">回滚事务：根据当前回滚指针从 undo log 中找出事务修改前的版本，并恢复</text></g>
<g id="t2f"><path class="u" d="M464 2876.3H748"/><text class="t" x="475" y="2867.3" textLength="261" lengthAdjust="spacingAndGlyphs">提交事务，在 redo log 中写入 commit 记录</text></g>
<g id="t2g"><path class="u" d="M464 2908.3H553.5"/><text class="t" x="475" y="2899.3" textLength="66.5" lengthAdjust="spacingAndGlyphs">释放锁资源</text></g>
<g id="t2h"><path class="u" d="M464 2940.3H620.4"/><text class="t" x="475" y="2931.3" textLength="133.4" lengthAdjust="spacingAndGlyphs">异步清理 undo 段信息</text></g>
<g id="t2i"><path class="u" d="M464 2972.3H580"/><text class="t" x="475" y="2963.3" textLength="93" lengthAdjust="spacingAndGlyphs">清理保存点列表</text></g>
<g id="t3"><path class="u" d="M338 3020.3H387.2"/><text class="t" x="349" y="3011.3" textLength="26.2" lengthAdjust="spacingAndGlyphs">恢复</text><use href="#col" x="395.7" y="3006.3"/></g>
<g id="t3a"><path class="u" d="M410.8 3004.3H729.7"/><text class="t" x="421.8" y="2995.3" textLength="295.9" lengthAdjust="spacingAndGlyphs">通过 redo log 来重做事务或通过 undo log 来回滚</text></g>
<g id="t3b"><path class="u" d="M410.8 3036.3H626.4"/><text class="t" x="421.8" y="3027.3" textLength="192.6" lengthAdjust="spacingAndGlyphs">以 binlog 来确定是提交还是回滚</text></g>

<g id="n-rowlock">
<rect class="bx" x="199" y="3239.3" width="99" height="42" rx="6"/>
<text class="bt" x="212.6" y="3266.3" textLength="70" lengthAdjust="spacingAndGlyphs">行锁实现</text>
<use href="#col" x="305" y="3260.3"/>
</g>
<g id="r1"><path class="u" d="M321 3093H497.3"/><text class="t" x="332" y="3084" textLength="153.3" lengthAdjust="spacingAndGlyphs">快照读（snapshot read)</text><use href="#col" x="505.8" y="3079"/></g>
<g id="r1a"><path class="u" d="M522.4 3077H874"/><text class="t" x="533.4" y="3068" textLength="328.6" lengthAdjust="spacingAndGlyphs">定义：读取记录的可见版本（可能是历史版本），不加锁</text></g>
<g id="r1b"><path class="u" d="M522.4 3109H571.8"/><text class="t" x="533.4" y="3100" textLength="26.4" lengthAdjust="spacingAndGlyphs">表现</text><use href="#col" x="580.3" y="3095"/></g>
<g id="r1b1"><path class="u" d="M596.8 3109H681"/><text class="t" x="607.8" y="3100" textLength="61.2" lengthAdjust="spacingAndGlyphs">普通select</text></g>
<g id="r2"><path class="u" d="M321 3173.3H486.7"/><text class="t" x="332" y="3164.3" textLength="142.7" lengthAdjust="spacingAndGlyphs">当前读（current read)</text><use href="#col" x="495.2" y="3159.3"/></g>
<g id="r2a"><path class="u" d="M511 3141.3H823.8"/><text class="t" x="522" y="3132.3" textLength="289.8" lengthAdjust="spacingAndGlyphs">定义：读取记录最新版本，会加锁保证不并发修改</text></g>
<g id="r2b"><path class="u" d="M511 3205.3H561"/><text class="t" x="522" y="3196.3" textLength="27" lengthAdjust="spacingAndGlyphs">表现</text><use href="#col" x="569.5" y="3191.3"/></g>
<g id="r2b1"><path class="u" d="M585.4 3173.3H874"/><text class="t" x="596.4" y="3164.3" textLength="265.6" lengthAdjust="spacingAndGlyphs">特殊查询 select .. where ? for update  加S锁</text></g>
<g id="r2b2"><path class="u" d="M585.4 3205.3H868"/><text class="t" x="596.4" y="3196.3" textLength="259.6" lengthAdjust="spacingAndGlyphs">select .. where ? lock in share mode  加x锁</text></g>
<g id="r2b3"><path class="u" d="M585.4 3237.3H877"/><text class="t" x="596.4" y="3228.3" textLength="268.6" lengthAdjust="spacingAndGlyphs">insert，update，delete 等 DML 操作  加x锁</text></g>
<g id="r3"><path class="u" d="M321 3269.3H370.5"/><text class="t" x="332" y="3260.3" textLength="26.5" lengthAdjust="spacingAndGlyphs">特点</text><use href="#col" x="379" y="3255.3"/></g>
<g id="r3a"><path class="u" d="M394.8 3269.3H793.5"/><text class="t" x="405.8" y="3260.3" textLength="375.7" lengthAdjust="spacingAndGlyphs">针对当前读，InnoDB交互式一条一条的进行，加锁也是一条一条</text></g>
<g id="r4"><path class="u" d="M321 3349.3H370.5"/><text class="t" x="332" y="3340.3" textLength="26.5" lengthAdjust="spacingAndGlyphs">过程</text><use href="#col" x="379" y="3335.3"/></g>
<g id="r4a"><path class="u" d="M394.8 3301.3H540"/><text class="t" x="405.8" y="3292.3" textLength="122.2" lengthAdjust="spacingAndGlyphs">发送一个update语句</text></g>
<g id="r4b"><path class="u" d="M394.8 3333.3H589"/><text class="t" x="405.8" y="3324.3" textLength="171.2" lengthAdjust="spacingAndGlyphs">使用当前读取出第一条并加锁</text></g>
<g id="r4c"><path class="u" d="M394.8 3365.3H719.8"/><text class="t" x="405.8" y="3356.3" textLength="302" lengthAdjust="spacingAndGlyphs">mysql 收到会再发一个 update 请求，更新这条记录</text></g>
<g id="r4d"><path class="u" d="M394.8 3397.3H602"/><text class="t" x="405.8" y="3388.3" textLength="184.2" lengthAdjust="spacingAndGlyphs">完成后再读下一条重复上述过程</text></g>
<g id="r5"><path class="u" d="M321 3429.3H423"/><text class="t" x="332" y="3420.3" textLength="79" lengthAdjust="spacingAndGlyphs">两阶段锁实现</text><use href="#col" x="431.5" y="3415.3"/></g>
<g id="r5a"><path class="u" d="M448 3429.3H1091"/><text class="t" x="459" y="3420.3" textLength="620" lengthAdjust="spacingAndGlyphs">2PL就是将加锁/解锁分为两个完全不相交的阶段。加锁阶段：只加锁，不放锁。解锁阶段：只放锁，不加锁</text></g>

<g id="n-lock">
<rect class="bx" x="199" y="3634.3" width="81" height="42" rx="6"/>
<text class="bt" x="212.6" y="3661.3" textLength="52.4" lengthAdjust="spacingAndGlyphs">锁机制</text>
<use href="#col" x="287.5" y="3655.3"/>
</g>
<g id="l1"><path class="u" d="M303.7 3470.3H392.6"/><text class="t" x="314.7" y="3461.3" textLength="65.9" lengthAdjust="spacingAndGlyphs">锁信息查看</text><use href="#col" x="401" y="3456.3"/></g>
<g id="l1a"><path class="u" d="M416.9 3470.3H669"/><text class="t" x="427.9" y="3461.3" textLength="229.1" lengthAdjust="spacingAndGlyphs">show status like 'innodb_row_lock%';</text></g>
<g id="l2"><path class="u" d="M303.7 3502.3H353"/><text class="t" x="314.7" y="3493.3" textLength="26.3" lengthAdjust="spacingAndGlyphs">无锁</text><use href="#col" x="361.5" y="3488.3"/></g>
<g id="l2a"><path class="u" d="M377.4 3502.3H798"/><text class="t" x="388.4" y="3493.3" textLength="397.6" lengthAdjust="spacingAndGlyphs">普通 select 不加任何锁，因此行锁无阻塞，但 page 锁和表锁会阻塞</text></g>
<g id="l3"><path class="u" d="M303.7 3552.3H466.2"/><text class="t"><tspan x="314.7" y="3525.3" textLength="132" lengthAdjust="spacingAndGlyphs">共享锁（读写锁，S锁）</tspan><tspan x="314.7" y="3543.3" textLength="136" lengthAdjust="spacingAndGlyphs">共享读，ix，x锁会阻塞</tspan></text><use href="#col" x="474.6" y="3529.3"/></g>
<g id="l3a"><path class="u" d="M491.3 3552.3H802.6"/><text class="t" x="502.3" y="3543.3" textLength="288.3" lengthAdjust="spacingAndGlyphs">select * from table where ? lock in share mode</text></g>
<g id="l4"><path class="u" d="M303.7 3602.7H505"/><text class="t"><tspan x="314.7" y="3575.7" textLength="170" lengthAdjust="spacingAndGlyphs">当前读加排他锁（写锁，x锁）</tspan><tspan x="314.7" y="3593.7" textLength="171.6" lengthAdjust="spacingAndGlyphs">排他锁即其他任何锁都会阻塞</tspan></text><use href="#col" x="513.3" y="3579.3"/></g>
<g id="l4a"><path class="u" d="M529 3586.7H789"/><text class="t" x="540" y="3577.7" textLength="237" lengthAdjust="spacingAndGlyphs">select * from table where ? for update</text></g>
<g id="l4b"><path class="u" d="M529 3618.7H695.5"/><text class="t" x="540" y="3609.7" textLength="143.5" lengthAdjust="spacingAndGlyphs">insert，update，delete</text></g>
<g id="l5"><path class="u" d="M303.7 3666.7H389.5"/><text class="t" x="314.7" y="3657.7" textLength="62.8" lengthAdjust="spacingAndGlyphs">gap间隙锁</text><use href="#col" x="398" y="3652.7"/></g>
<g id="l5a"><path class="u" d="M413.8 3650.7H555.8"/><text class="t" x="424.8" y="3641.7" textLength="119" lengthAdjust="spacingAndGlyphs">范围条件的行锁会有</text></g>
<g id="l5b"><path class="u" d="M413.8 3682.7H574"/><text class="t" x="424.8" y="3673.7" textLength="137.2" lengthAdjust="spacingAndGlyphs">或 = 条件但数据不存在</text></g>
<g id="l6"><path class="u" d="M303.7 3714.7H392.6"/><text class="t" x="314.7" y="3705.7" textLength="65.9" lengthAdjust="spacingAndGlyphs">意向共享锁</text></g>
<g id="l7"><path class="u" d="M303.7 3746.7H392.6"/><text class="t" x="314.7" y="3737.7" textLength="65.9" lengthAdjust="spacingAndGlyphs">意向排他锁</text></g>
<g id="l8"><path class="u" d="M303.7 3794.7H353"/><text class="t" x="314.7" y="3785.7" textLength="26.3" lengthAdjust="spacingAndGlyphs">范围</text><use href="#col" x="361.5" y="3780.7"/></g>
<g id="l8a"><path class="u" d="M377.4 3778.7H427.5"/><text class="t" x="388.4" y="3769.7" textLength="27.1" lengthAdjust="spacingAndGlyphs">表锁</text><use href="#col" x="436" y="3764.7"/></g>
<g id="l8a1"><path class="u" d="M451.8 3778.7H593"/><text class="t" x="462.8" y="3769.7" textLength="118.2" lengthAdjust="spacingAndGlyphs">没有用到索引查询时</text></g>
<g id="l8b"><path class="u" d="M377.4 3810.3H440.4"/><text class="t" x="388.4" y="3801.3" textLength="40" lengthAdjust="spacingAndGlyphs">行级锁</text><use href="#col" x="449" y="3796.3"/></g>
<g id="l8b1"><path class="u" d="M464.7 3810.3H622.6"/><text class="t" x="475.7" y="3801.3" textLength="134.9" lengthAdjust="spacingAndGlyphs">通过索引 + mvcc 实现</text></g>
<g id="l9"><path class="u" d="M303.7 3842.3H401"/><text class="t" x="314.7" y="3833.3" textLength="74.3" lengthAdjust="spacingAndGlyphs">replace into</text><use href="#col" x="409.5" y="3828.3"/></g>
<g id="l9a"><path class="u" d="M425.2 3842.3H566.4"/><text class="t" x="436.2" y="3833.3" textLength="118.2" lengthAdjust="spacingAndGlyphs">导致主从数据不一致</text></g>

<g id="n-iso">
<rect class="bx" x="199" y="3989.3" width="99" height="42" rx="6"/>
<text class="bt" x="212.6" y="4016.3" textLength="68.3" lengthAdjust="spacingAndGlyphs">隔离级别</text>
<use href="#col" x="305" y="4010.3"/>
</g>
<g id="g1"><path class="u" d="M321 3883H699.3"/><text class="t" x="332" y="3874" textLength="355.3" lengthAdjust="spacingAndGlyphs">丢失更新，脏读，可重复读（数据变化），幻读（行数变化）</text></g>
<g id="g2"><path class="u" d="M321 3915.3H617.3"/><text class="t" y="3906.3"><tspan x="332" textLength="181" lengthAdjust="spacingAndGlyphs">读未提交（read uncommited)</tspan><tspan x="536" textLength="67.6" lengthAdjust="spacingAndGlyphs">yes,yes,yes</tspan></text></g>
<g id="g3"><path class="u" d="M321 3979.3H580"/><text class="t" y="3970.3"><tspan x="332" textLength="151.7" lengthAdjust="spacingAndGlyphs">读提交（read commited)</tspan><tspan x="504.2" textLength="62.2" lengthAdjust="spacingAndGlyphs">no,yes,yes</tspan></text><use href="#col" x="588" y="3965.3"/></g>
<g id="g3a"><path class="u" d="M603.6 3947.3H758.5"/><text class="t" x="614.6" y="3938.3" textLength="131.9" lengthAdjust="spacingAndGlyphs">大部分数据库的默认值</text></g>
<g id="g3b"><path class="u" d="M603.6 3979.3H864"/><text class="t" x="614.6" y="3970.3" textLength="237.4" lengthAdjust="spacingAndGlyphs">一个事务内，数据会变，数据数量也会变</text></g>
<g id="g3c"><path class="u" d="M603.6 4011.3H811.7"/><text class="t" x="614.6" y="4002.3" textLength="185.1" lengthAdjust="spacingAndGlyphs">针对当前读：加记录锁，可幻读</text></g>
<g id="g4"><path class="u" d="M321 4075.3H594.5"/><text class="t" y="4066.3"><tspan x="332" textLength="166.9" lengthAdjust="spacingAndGlyphs">可重复读（repeatable read)</tspan><tspan x="523.2" textLength="58.4" lengthAdjust="spacingAndGlyphs">no,no,yes</tspan></text><use href="#col" x="603" y="4061.3"/></g>
<g id="g4a"><path class="u" d="M619.6 4043.3H866.4"/><text class="t" x="630.6" y="4034.3" textLength="223.8" lengthAdjust="spacingAndGlyphs">一个事务内数据，数据不变但数据会变</text></g>
<g id="g4b"><path class="u" d="M619.6 4075.3H813.2"/><text class="t" x="630.6" y="4066.3" textLength="170.6" lengthAdjust="spacingAndGlyphs">解决幻读，要加范围锁或表锁</text></g>
<g id="g4c"><path class="u" d="M619.6 4107.3H984.8"/><text class="t" x="630.6" y="4098.3" textLength="342.2" lengthAdjust="spacingAndGlyphs">当前读：加记录锁，范围锁，不能插入（间隙锁），无幻读</text></g>
<g id="g5"><path class="u" d="M321 4139.3H553.5"/><text class="t" y="4130.3"><tspan x="332" textLength="110.7" lengthAdjust="spacingAndGlyphs">串行（serializable)</tspan><tspan x="486" textLength="53.9" lengthAdjust="spacingAndGlyphs">no,no,no</tspan></text><use href="#col" x="562" y="4125.3"/></g>
<g id="g5a"><path class="u" d="M578.6 4139.3H1004.6"/><text class="t" x="589.6" y="4130.3" textLength="403" lengthAdjust="spacingAndGlyphs">从 mvcc 退化到基于锁的并发控制，全是当前读，读+读锁，写+写锁</text></g>

<g id="n-mvcc">
<rect class="bx" x="199" y="4327.3" width="224" height="42" rx="6"/>
<text class="bt" x="212.6" y="4354.3" textLength="195.1" lengthAdjust="spacingAndGlyphs">MVCC 多版本一致性控制</text>
<use href="#col" x="430.5" y="4348.3"/>
</g>
<g id="m1"><path class="u" d="M445.7 4248.7H522.4"/><text class="t" x="456.7" y="4239.7" textLength="53.7" lengthAdjust="spacingAndGlyphs">隐含字段</text><use href="#col" x="530.5" y="4234.7"/></g>
<g id="m1a"><path class="u" d="M546.7 4198.3H686.4"/><text class="t"><tspan x="558" y="4171.3" textLength="105" lengthAdjust="spacingAndGlyphs">DB_TRX_ID 6字节</tspan><tspan x="558" y="4189.3" textLength="115.5" lengthAdjust="spacingAndGlyphs">事务id，随事务增加</tspan></text></g>
<g id="m1b"><path class="u" d="M546.7 4248.7H695.5"/><text class="t"><tspan x="558" y="4221.7" textLength="124.6" lengthAdjust="spacingAndGlyphs">DB_ROLL_PTR 7字节</tspan><tspan x="558" y="4239.7" textLength="51" lengthAdjust="spacingAndGlyphs">回滚指针</tspan></text></g>
<g id="m1c"><path class="u" d="M546.7 4298.3H726"/><text class="t"><tspan x="558" y="4271.3" textLength="76" lengthAdjust="spacingAndGlyphs">DB_ROW_ID</tspan><tspan x="558" y="4289.3" textLength="155.7" lengthAdjust="spacingAndGlyphs">隐藏的id，随记录自然增长</tspan></text></g>
<g id="m2"><path class="u" d="M445.7 4450.3H495"/><text class="t" x="456.7" y="4441.3" textLength="26.3" lengthAdjust="spacingAndGlyphs">过程</text><use href="#col" x="503.5" y="4436.3"/></g>
<g id="m2a"><path class="u" d="M520 4346.3H578.6"/><text class="t" x="531" y="4337.3" textLength="35.6" lengthAdjust="spacingAndGlyphs">select</text><use href="#col" x="587" y="4332.3"/></g>
<g id="m2a1"><path class="u" d="M603 4330.7H855"/><text class="t" x="614" y="4321.7" textLength="229" lengthAdjust="spacingAndGlyphs">当前session 事务版本号&gt;=DB_TRX_ID</text></g>
<g id="m2a2"><path class="u" d="M603 4362.7H807"/><text class="t" x="614" y="4353.7" textLength="181" lengthAdjust="spacingAndGlyphs">delete_id is null or 当前事务号</text></g>
<g id="m2b"><path class="u" d="M520 4394.3H580"/><text class="t" x="531" y="4385.3" textLength="35" lengthAdjust="spacingAndGlyphs">insert</text><use href="#col" x="587" y="4380.3"/></g>
<g id="m2b1"><path class="u" d="M603 4394.3H855.7"/><text class="t" x="613" y="4385.3" textLength="231.6" lengthAdjust="spacingAndGlyphs">新插入的行，DB_TRX_ID = 当前事务号</text></g>
<g id="m2c"><path class="u" d="M520 4426.3H588.5"/><text class="t" x="531" y="4417.3" textLength="45.5" lengthAdjust="spacingAndGlyphs">update</text><use href="#col" x="596.5" y="4412.3"/></g>
<g id="m2c1"><path class="u" d="M612.8 4426.3H1057"/><text class="t" x="623.8" y="4417.3" textLength="421.2" lengthAdjust="spacingAndGlyphs">更新行的时候，InnoDB会把原来行复制一份，DB_TRX_ID = 当前事务号</text></g>
<g id="m2d"><path class="u" d="M520 4474.3H581.6"/><text class="t" x="531" y="4465.3" textLength="38.6" lengthAdjust="spacingAndGlyphs">delete</text><use href="#col" x="590" y="4460.3"/></g>
<g id="m2d1"><path class="u" d="M606.7 4458.3H1108.6"/><text class="t" x="617.7" y="4449.3" textLength="478.9" lengthAdjust="spacingAndGlyphs">设置删除版本号为当前事务id (DB_TRX_ID=当前事务号??) delete_id = 当前事务号</text></g>
<g id="m2d2"><path class="u" d="M606.7 4490.3H1132.9"/><text class="t" x="617.7" y="4481.3" textLength="497" lengthAdjust="spacingAndGlyphs">相当于标记为删除，而不是物理的删除。真是的删除是在InnoDB的purge线程去做的。</text></g>
<g id="m2e"><path class="u" d="M520 4522.3H590.7"/><text class="t" x="531" y="4513.3" textLength="47.7" lengthAdjust="spacingAndGlyphs">commit</text><use href="#col" x="599" y="4508.3"/></g>
<g id="m2e1"><path class="u" d="M615 4522.3H989.4"/><text class="t" x="626" y="4513.3" textLength="351.4" lengthAdjust="spacingAndGlyphs">修改事务状态为 commit，在 redo log 中写入 commit 记录</text></g>
<g id="m2f"><path class="u" d="M520 4554.3H593.8"/><text class="t" x="531" y="4545.3" textLength="50.8" lengthAdjust="spacingAndGlyphs">rollback</text><use href="#col" x="602" y="4540.3"/></g>
<g id="m2f1"><path class="u" d="M617.3 4554.3H1019.7"/><text class="t" x="628.3" y="4545.3" textLength="379.4" lengthAdjust="spacingAndGlyphs">根据当前回滚指针从 undo log 中找出事务修改前的版本，并修复</text></g>
</svg>
